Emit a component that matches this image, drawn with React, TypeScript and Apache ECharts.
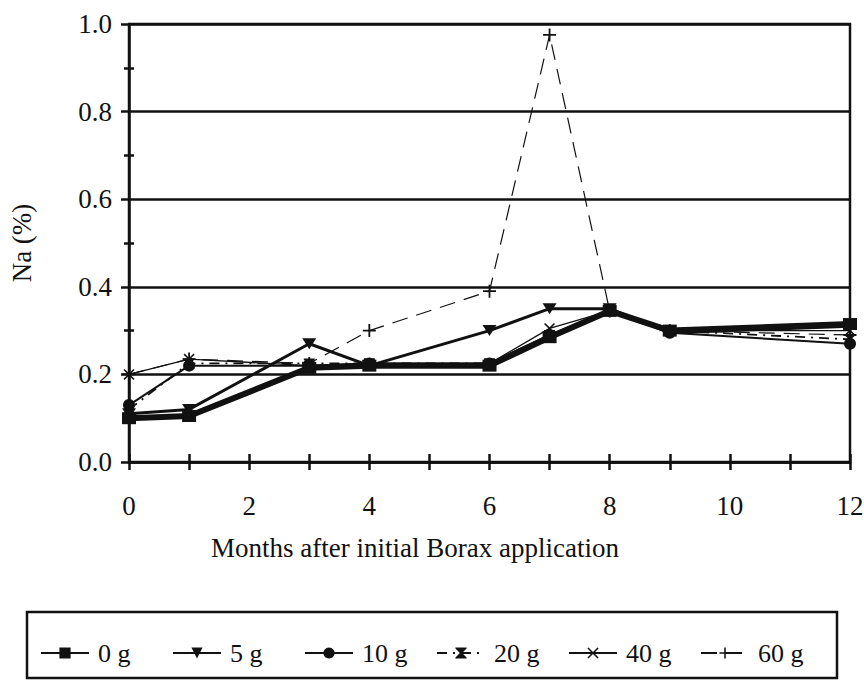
import React, { useEffect, useRef } from "react";
import * as echarts from "echarts";

// Sampling months and Na (%) per Borax dose
const months = [0, 1, 3, 4, 6, 7, 8, 9, 12];
const na0g = [0.1, 0.105, 0.215, 0.22, 0.22, 0.285, 0.345, 0.3, 0.315];
const na5g = [0.11, 0.12, 0.27, 0.22, 0.3, 0.35, 0.35, 0.295, 0.31];
const na10g = [0.13, 0.22, 0.22, 0.225, 0.225, 0.29, 0.345, 0.295, 0.27];
const na20g = [0.12, 0.225, 0.225, 0.225, 0.225, 0.29, 0.345, 0.3, 0.28];
const na40g = [0.2, 0.235, 0.22, 0.225, 0.225, 0.305, 0.345, 0.3, 0.3];
const na60g = [0.2, 0.235, 0.225, 0.3, 0.39, 0.975, 0.345, 0.3, 0.29];

const doseLabels = ["0 g", "5 g", "10 g", "20 g", "40 g", "60 g"];
const yTicks = [0, 0.2, 0.4, 0.6, 0.8, 1.0];
const xTickLabels = [0, 2, 4, 6, 8, 10, 12];

const FONT = "'Liberation Serif', 'Times New Roman', serif";
const INK = "#111";

const HOURGLASS = "path://M0,0 L10,0 L10,1 L6,5 L10,9 L10,10 L0,10 L0,9 L4,5 L0,1 Z";
const CROSS_X =
  "path://M0,1 L1,0 L5,4 L9,0 L10,1 L6,5 L10,9 L9,10 L5,6 L1,10 L0,9 L4,5 Z";
const PLUS =
  "path://M4.3,0 L5.7,0 L5.7,4.3 L10,4.3 L10,5.7 L5.7,5.7 L5.7,10 L4.3,10 L4.3,5.7 L0,5.7 L0,4.3 L4.3,4.3 Z";

const pairs = (vals: number[]) => months.map((m, i) => [m, vals[i]]);

export default function App() {
  const ref = useRef<HTMLDivElement>(null);

  useEffect(() => {
    if (!ref.current) return;
    const chart = echarts.init(ref.current, null, { renderer: "svg" });

    const axisFont = { fontFamily: FONT, fontSize: 27, color: INK };

    // one legend per dose so the entries sit at even spacing inside one frame
    const legends = doseLabels.map((label, i) => ({
      left: 40 + i * 132,
      top: 640,
      padding: 0,
      itemWidth: 48,
      itemHeight: 14,
      textStyle: { fontFamily: FONT, fontSize: 26, color: INK, padding: [0, 0, 0, 4] },
      data: [label],
    }));

    chart.setOption({
      animation: false,
      backgroundColor: "#fff",
      grid: {
        left: 129,
        right: 14,
        top: 24,
        bottom: 218,
        outerBoundsMode: "none",
        containLabel: false,
        show: true,
        borderColor: INK,
        borderWidth: 2.5,
        backgroundColor: "transparent",
      },
      xAxis: [
        {
          type: "value",
          min: 0,
          max: 12,
          interval: 1,
          axisLine: { show: true, lineStyle: { color: INK, width: 2.5 } },
          axisTick: { show: true, length: 8, lineStyle: { color: INK, width: 2.5 } },
          axisLabel: {
            ...axisFont,
            margin: 30,
            formatter: (v: number) => (xTickLabels.includes(v) ? String(v) : ""),
          },
          splitLine: { show: false },
        },
        {
          type: "value",
          min: 0,
          max: 12,
          interval: 1,
          position: "bottom",
          axisLine: { show: false },
          axisTick: { show: true, inside: true, length: 8, lineStyle: { color: INK, width: 2.5 } },
          axisLabel: { show: false },
          splitLine: { show: false },
        },
      ],
      yAxis: [
        {
          type: "value",
          min: 0,
          max: 1,
          interval: 0.2,
          name: "Na (%)",
          nameLocation: "middle",
          nameGap: 94,
          nameRotate: 90,
          nameTextStyle: { fontFamily: FONT, fontSize: 27, color: INK },
          axisLine: { show: true, lineStyle: { color: INK, width: 2.5 } },
          axisTick: { show: true, length: 8, lineStyle: { color: INK, width: 2.5 } },
          minorTick: { show: true, splitNumber: 2, length: 5, lineStyle: { color: INK, width: 2.5 } },
          axisLabel: {
            ...axisFont,
            margin: 17,
            formatter: (v: number) =>
              yTicks.some((t) => Math.abs(t - v) < 1e-9) ? v.toFixed(1) : "",
          },
          splitLine: { show: true, lineStyle: { color: INK, width: 2.5 } },
        },
        {
          type: "value",
          min: 0,
          max: 1,
          interval: 0.2,
          position: "left",
          axisLine: { show: false },
          axisTick: { show: false, inside: true },
          minorTick: { show: true, splitNumber: 2, length: 5, lineStyle: { color: INK, width: 2.5 } },
          axisLabel: { show: false },
          splitLine: { show: false },
        },
      ],
      legend: legends,
      graphic: [
        {
          type: "text",
          x: 415,
          y: 548,
          style: {
            text: "Months after initial Borax application",
            font: `27px ${FONT}`,
            fill: INK,
            align: "center",
            verticalAlign: "middle",
          },
        },
        {
          type: "rect",
          shape: { x: 27, y: 612, width: 810, height: 66 },
          style: { fill: "none", stroke: INK, lineWidth: 2.5 },
          silent: true,
        },
      ],
      series: [
        {
          name: doseLabels[0],
          type: "line",
          data: pairs(na0g),
          z: 6,
          lineStyle: { color: INK, width: 6 },
          itemStyle: { color: INK },
          symbol: "rect",
          symbolSize: [14, 12],
        },
        {
          name: doseLabels[1],
          type: "line",
          data: pairs(na5g),
          z: 5,
          lineStyle: { color: INK, width: 3 },
          itemStyle: { color: INK },
          symbol: "triangle",
          symbolRotate: 180,
          symbolSize: [14, 11],
        },
        {
          name: doseLabels[2],
          type: "line",
          data: pairs(na10g),
          z: 4,
          lineStyle: { color: INK, width: 2 },
          itemStyle: { color: INK },
          symbol: "circle",
          symbolSize: 12,
        },
        {
          name: doseLabels[3],
          type: "line",
          data: pairs(na20g),
          z: 3,
          lineStyle: { color: INK, width: 1.8, type: [10, 6, 2, 6] },
          itemStyle: { color: INK },
          symbol: HOURGLASS,
          symbolSize: [11, 10],
        },
        {
          name: doseLabels[4],
          type: "line",
          data: pairs(na40g),
          z: 3,
          lineStyle: { color: INK, width: 1.3 },
          itemStyle: { color: INK },
          symbol: CROSS_X,
          symbolSize: 11,
        },
        {
          name: doseLabels[5],
          type: "line",
          data: pairs(na60g),
          z: 3,
          lineStyle: { color: INK, width: 1.2, type: [16, 9] },
          itemStyle: { color: INK },
          symbol: PLUS,
          symbolSize: 13,
        },
      ],
    });

    return () => chart.dispose();
  }, []);

  return (
    <div
      ref={ref}
      style={{ position: "absolute", left: 0, top: 0, width: 864, height: 680 }}
    />
  );
}
